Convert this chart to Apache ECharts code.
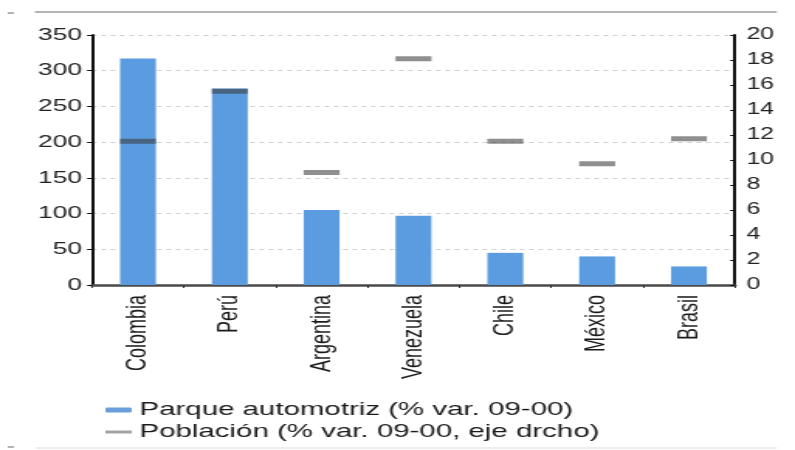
<!DOCTYPE html>
<html>
<head>
<meta charset="utf-8">
<script src="https://cdn.jsdelivr.net/npm/echarts@6/dist/echarts.min.js"></script>
<style>
html,body{margin:0;padding:0;background:#fff;overflow:hidden;width:795px;height:450px;}
#c{width:513px;height:450px;transform:scaleX(1.5497);transform-origin:0 0;}
</style>
</head>
<body>
<div id="c"></div>
<script>
var categories = ['Colombia', 'Perú', 'Argentina', 'Venezuela', 'Chile', 'México', 'Brasil'];
var parqueValues = [317, 275, 105, 97, 45, 40, 26];
var poblacionValues = [11.5, 15.5, 9.0, 18.1, 11.5, 9.7, 11.7];
var leftTicks = [0, 50, 100, 150, 200, 250, 300, 350];
var rightTicks = [0, 2, 4, 6, 8, 10, 12, 14, 16, 18, 20];
var parqueName = 'Parque automotriz (% var. 09-00)';
var poblacionName = 'Población (% var. 09-00, eje drcho)';

var FONT = 'Liberation Sans, Arial, sans-serif';
var chart = echarts.init(document.getElementById('c'), null, {renderer: 'canvas'});

chart.setOption({
  animation: false,
  backgroundColor: '#ffffff',
  textStyle: {fontFamily: FONT},
  grid: {left: 59.4, right: 38.8, top: 35, bottom: 165, containLabel: false},
  legend: [
    {
      data: [{name: parqueName, icon: 'roundRect', itemStyle: {color: '#6a9fdb'}}],
      left: 63, top: 395, itemWidth: 17, itemHeight: 5, itemGap: 0,
      selectedMode: false,
      textStyle: {fontFamily: FONT, fontSize: 19, color: '#1a1a1a', lineHeight: 20}
    },
    {
      data: [{name: poblacionName, icon: 'rect', itemStyle: {color: '#8c8c8c'}}],
      left: 63, top: 417, itemWidth: 17, itemHeight: 3, itemGap: 0,
      selectedMode: false,
      textStyle: {fontFamily: FONT, fontSize: 19, color: '#1a1a1a', lineHeight: 20}
    }
  ],
  xAxis: {
    type: 'category',
    data: categories,
    boundaryGap: true,
    axisLine: {show: true, lineStyle: {color: '#4a4a4a', width: 2.5}},
    axisTick: {show: true, length: 3, lineStyle: {color: '#333', width: 1}},
    axisLabel: {rotate: 90, margin: 10, fontSize: 18, color: '#1a1a1a', fontFamily: FONT},
    splitLine: {show: false}
  },
  yAxis: [
    {
      type: 'value', min: 0, max: 350, interval: 50,
      axisLine: {show: true, lineStyle: {color: '#111', width: 2}},
      axisTick: {show: true, length: 3.2, lineStyle: {color: '#111', width: 1}},
      axisLabel: {margin: 6.5, fontSize: 17, color: '#222', fontFamily: FONT,
        formatter: function (v) { return leftTicks.indexOf(v) >= 0 ? String(v) : ''; }},
      splitLine: {show: true, lineStyle: {color: '#cfcfcf', width: 1, type: [3, 3]}}
    },
    {
      type: 'value', min: 0, max: 20, interval: 2, position: 'right',
      axisLine: {show: true, lineStyle: {color: '#111', width: 2}},
      axisTick: {show: true, inside: true, length: 3, lineStyle: {color: '#111', width: 1}},
      axisLabel: {margin: 7.5, fontSize: 16, color: '#222', fontFamily: FONT,
        formatter: function (v) { return rightTicks.indexOf(v) >= 0 ? String(v) : ''; }},
      splitLine: {show: false}
    }
  ],
  series: [
    {
      name: parqueName,
      type: 'bar',
      yAxisIndex: 0,
      data: parqueValues,
      barWidth: '39%',
      itemStyle: {color: '#5b9bdf'},
      silent: true
    },
    {
      name: poblacionName,
      type: 'scatter',
      yAxisIndex: 1,
      data: poblacionValues,
      symbol: 'rect',
      symbolSize: [23.2, 5],
      itemStyle: {color: 'rgba(60,60,60,0.72)'},
      silent: true,
      z: 3
    }
  ],
  graphic: [
    {type: 'line', shape: {x1: 22.6, y1: 12, x2: 501.3, y2: 12}, style: {stroke: '#9a9a9a', lineWidth: 1.5}, silent: true},
    {type: 'line', shape: {x1: 5, y1: 13, x2: 9, y2: 13}, style: {stroke: '#9a9a9a', lineWidth: 1.5}, silent: true},
    {type: 'line', shape: {x1: 22.6, y1: 448, x2: 501.3, y2: 448}, style: {stroke: '#dddddd', lineWidth: 1}, silent: true},
    {type: 'line', shape: {x1: 5, y1: 447, x2: 9, y2: 447}, style: {stroke: '#9a9a9a', lineWidth: 1.5}, silent: true}
  ]
});
</script>
</body>
</html>
